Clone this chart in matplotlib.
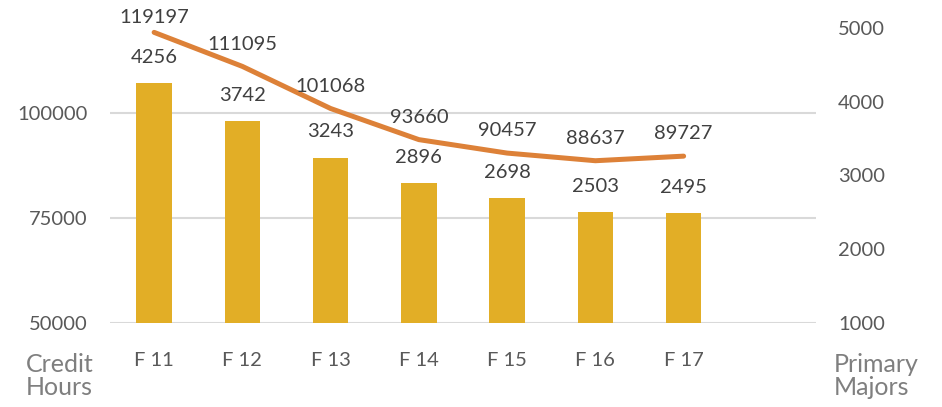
import matplotlib.pyplot as plt

plt.rcParams['font.family'] = ['Lato', 'DejaVu Sans']

terms = ['F 11', 'F 12', 'F 13', 'F 14', 'F 15', 'F 16', 'F 17']
credit_hours = [119197, 111095, 101068, 93660, 90457, 88637, 89727]
primary_majors = [4256, 3742, 3243, 2896, 2698, 2503, 2495]

bar_color = '#E2AE26'
line_color = '#DD8138'
tick_color = '#595959'
label_color = '#404040'
title_color = '#7F7F7F'

fig = plt.figure(figsize=(9.42, 4.07), dpi=100)
ax = fig.add_axes([110 / 942, 84 / 407, 706 / 942, 295 / 407])
ax2 = ax.twinx()

x = list(range(len(terms)))

# credit hours line on the left axis
ax.plot(x, credit_hours, color=line_color, lw=3.6, solid_capstyle='round', zorder=3)
for i, (xi, v) in enumerate(zip(x, credit_hours)):
    # excel pulls the topmost label down a bit so it stays inside the chart
    off = 11 if i == 0 else 16
    ax.annotate(str(v), (xi, v), xytext=(0, off), textcoords='offset points',
                ha='center', va='center', fontsize=14.5, color=label_color)

ax.set_ylim(50000, 120238)
ax.set_yticks([50000, 75000, 100000])
ax.grid(axis='y', color='#D9D9D9', lw=1.5)
ax.set_axisbelow(True)

# primary majors bars on the right axis
ax2.bar(x, primary_majors, width=0.4, color=bar_color, zorder=2)
for xi, v in zip(x, primary_majors):
    ax2.annotate(str(v), (xi, v), xytext=(0, 18.5), textcoords='offset points',
                 ha='center', va='center', fontsize=14.5, color=label_color)
ax2.set_ylim(1000, 5000)
ax2.set_yticks([1000, 2000, 3000, 4000, 5000])

ax.set_xlim(-0.5, 7.5)
ax.set_xticks(x)
ax.set_xticklabels(terms)

for a in (ax, ax2):
    for s in a.spines.values():
        s.set_visible(False)
    a.tick_params(length=0, labelsize=14.5, labelcolor=tick_color)
ax.tick_params(axis='x', pad=21)
ax.tick_params(axis='y', pad=16)
ax2.tick_params(axis='y', pad=16)

fig.text(26 / 942, 1 - 353 / 407, 'Credit\nHours', ha='left', va='top',
         fontsize=18, color=title_color, linespacing=1.0)
fig.text(834 / 942, 1 - 353 / 407, 'Primary\nMajors', ha='left', va='top',
         fontsize=18, color=title_color, linespacing=1.0)

fig.savefig('out.png', dpi=100)
